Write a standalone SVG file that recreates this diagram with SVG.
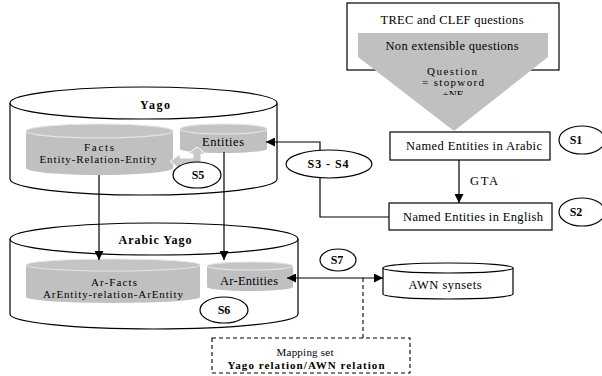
<svg xmlns="http://www.w3.org/2000/svg" width="602" height="376" viewBox="0 0 602 376" font-family="'Liberation Serif','Times New Roman',serif">
<defs>
<style>
text{font-family:"Liberation Serif","Times New Roman",serif;font-size:12.5px;fill:#000;text-anchor:middle}
.b{font-weight:bold;font-size:12px}
.q{font-size:11px}
.ln{stroke:#000;stroke-width:1.2;fill:none}
.box{stroke:#000;stroke-width:1.2;fill:#fff}
.gray{fill:#c0c0c0}
.gtop{fill:#c4c4c4;stroke:#e4e4e4;stroke-width:1.2}
.dash{stroke:#000;stroke-width:1.1;fill:none;stroke-dasharray:4 3}
</style>
<marker id="ah" viewBox="0 0 10 10" refX="10" refY="5" markerWidth="9" markerHeight="9" markerUnits="userSpaceOnUse" orient="auto-start-reverse">
<path d="M0,0 L10,5 L0,10 z" fill="#000"/>
</marker>
<clipPath id="cq"><rect x="340" y="0" width="262" height="95"/></clipPath>
</defs>

<g id="trec">
<rect class="box" x="347" y="3" width="212" height="67"/>
<polygon class="gray" points="358,33 548,33 548,57 454,131 358,57"/>
<text x="452" y="24" textLength="143">TREC and CLEF questions</text>
<text x="452" y="50" textLength="133">Non extensible questions</text>
<text class="q" x="452" y="75" textLength="50">Question</text>
<text class="q" x="453" y="86" textLength="62">= stopword</text>
<text class="q" x="453" y="98" clip-path="url(#cq)">+NE</text>
</g>

<g id="yago">
<path class="box" d="M10,103 L10,179 A133.5,16 0 0 0 277,179 L277,103"/>
<ellipse class="box" cx="143.5" cy="103" rx="133.5" ry="16"/>
<text class="b" x="155" y="109" textLength="30">Yago</text>
</g>

<g id="facts">
<path class="gray" d="M26,131 L26,168 A73.5,7 0 0 0 173,168 L173,131 z"/>
<ellipse class="gtop" cx="99.5" cy="131" rx="73.5" ry="7"/>
<text class="q" x="99" y="151" textLength="30">Facts</text>
<text class="q" x="98" y="163" textLength="117">Entity-Relation-Entity</text>
</g>

<g id="entities">
<path class="gray" d="M180,129 L180,149 A43.5,4 0 0 0 267,149 L267,129 z"/>
<ellipse class="gtop" cx="223.5" cy="129" rx="43.5" ry="5"/>
<text x="223" y="146" textLength="42">Entities</text>
</g>

<g id="s5arrow">
<polygon points="197,147 206,154 201,154 201,165 180,165 180,169 170,161.5 180,154 180,158 193,158 193,154 188,154" fill="#c8c8c8" stroke="#fff" stroke-width="1"/>
</g>

<g id="arabicyago">
<path class="box" d="M10,239 L10,314 A144,15 0 0 0 298,314 L298,239"/>
<ellipse class="box" cx="154" cy="239" rx="144" ry="16"/>
<text class="b" x="155" y="244" textLength="73">Arabic Yago</text>
</g>

<g id="arfacts">
<path class="gray" d="M26,265 L26,297 A87,6 0 0 0 200,297 L200,265 z"/>
<ellipse class="gtop" cx="113" cy="265" rx="87" ry="6"/>
<text class="q" x="114" y="286" textLength="46">Ar-Facts</text>
<text class="q" x="113" y="298" textLength="140">ArEntity-relation-ArEntity</text>
</g>

<g id="arentities">
<path class="gray" d="M207,266 L207,287 A43,4 0 0 0 293,287 L293,266 z"/>
<ellipse class="gtop" cx="250" cy="266" rx="43" ry="4"/>
<text x="249" y="285" textLength="58">Ar-Entities</text>
</g>

<g id="awn">
<path class="box" d="M383,268 L383,294 A65,5 0 0 0 513,294 L513,268"/>
<ellipse class="box" cx="448" cy="268" rx="65" ry="5"/>
<text x="445" y="289" textLength="73">AWN synsets</text>
</g>

<g id="nearabic">
<rect class="box" x="390" y="132" width="160" height="28"/>
<text x="474" y="150" textLength="136">Named Entities in Arabic</text>
</g>

<g id="neenglish">
<rect class="box" x="389" y="203" width="163" height="27"/>
<text x="473" y="221" textLength="140">Named Entities in English</text>
</g>

<g id="mapping">
<rect class="dash" x="212" y="338" width="198" height="35"/>
<text class="q" x="305" y="356" textLength="57">Mapping set</text>
<text class="b" x="306" y="369" textLength="157" style="font-size:11px">Yago relation/AWN relation</text>
</g>

<g id="connectors">
<line class="ln" x1="459" y1="160" x2="459" y2="203" marker-end="url(#ah)"/>
<text x="484" y="185" textLength="28">GTA</text>
<polyline class="ln" points="389,217 320,217 320,142 266,142" marker-end="url(#ah)"/>
<line class="ln" x1="99" y1="175" x2="99" y2="260" marker-end="url(#ah)"/>
<line class="ln" x1="224" y1="152" x2="224" y2="260" marker-end="url(#ah)"/>
<line class="ln" x1="287" y1="278" x2="383" y2="278" marker-start="url(#ah)" marker-end="url(#ah)"/>
<line class="dash" x1="363" y1="278" x2="363" y2="338"/>
</g>

<g id="s1"><ellipse class="box" cx="582" cy="140" rx="23" ry="14"/><text class="b" x="576" y="144">S1</text></g>
<g id="s2"><ellipse class="box" cx="582" cy="212" rx="23" ry="14"/><text class="b" x="576" y="216">S2</text></g>
<g id="s34"><ellipse class="box" cx="329" cy="164" rx="43" ry="14"/><text class="b" x="328" y="168" textLength="41">S3 - S4</text></g>
<g id="s5"><ellipse class="box" cx="197" cy="175" rx="24" ry="13"/><text class="b" x="198" y="179">S5</text></g>
<g id="s6"><ellipse class="box" cx="224" cy="310" rx="24" ry="13"/><text class="b" x="224" y="314">S6</text></g>
<g id="s7"><ellipse class="box" cx="338" cy="260" rx="18" ry="11"/><text class="b" x="337" y="264">S7</text></g>
</svg>
